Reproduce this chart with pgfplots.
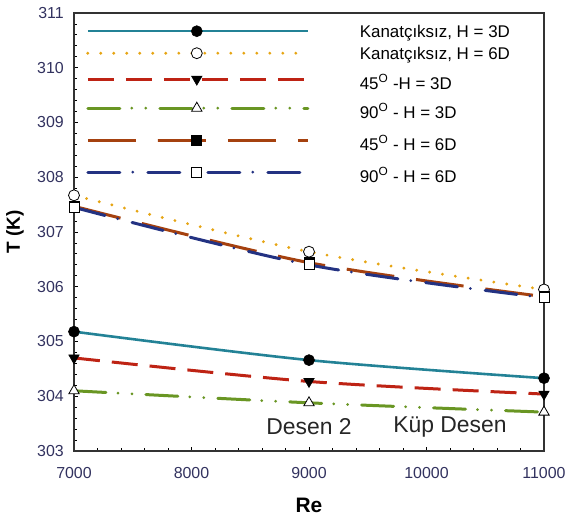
\documentclass[border=0pt]{standalone}
\usepackage{pgfplots}
\pgfplotsset{compat=1.18}
\usepackage{fontspec}
\setmainfont{Liberation Sans}
\definecolor{cteal}{RGB}{35,130,150}
\definecolor{corange}{RGB}{230,165,20}
\definecolor{cred}{RGB}{190,35,20}
\definecolor{cgreen}{RGB}{105,150,35}
\definecolor{cbrown}{RGB}{165,65,15}
\definecolor{cnavy}{RGB}{35,50,130}
\definecolor{ctick}{RGB}{50,50,95}
\begin{document}
\begin{tikzpicture}
\path[use as bounding box] (-74bp,-70bp) rectangle (496bp,451bp);
\begin{axis}[
  scale only axis, width=470bp, height=438bp,
  at={(0,0)}, anchor=south west,
  xmin=7000, xmax=11000, ymin=303, ymax=311,
  xtick={7000,8000,9000,10000,11000}, ytick={303,304,...,311},
  scaled x ticks=false, scaled y ticks=false,
  minor x tick num=4, minor y tick num=4,
  tick align=inside, xtick pos=left, ytick pos=left,
  major tick length=4bp, minor tick length=3bp,
  tick style={black, line width=0.8bp},
  axis line style={line width=1.1bp, black!80},
  /pgf/number format/assume math mode=true,
  /pgf/number format/set thousands separator={},
  ticklabel style={font=\fontsize{16}{18}\selectfont, text=ctick, inner sep=0pt},
  xticklabel style={anchor=center, yshift=-22bp},
  yticklabel style={anchor=east, xshift=-10bp},
  xlabel={Re}, ylabel={T (K)},
  xlabel style={font=\bfseries\fontsize{21}{24}\selectfont, at={(axis description cs:0.5,-0.1233)}, anchor=center},
  ylabel style={font=\bfseries\fontsize{19}{22}\selectfont, at={(axis description cs:-0.1255,0.5)}, anchor=center},
  legend image code/.code={
    \draw[mark repeat=2, mark phase=2, #1] plot coordinates {(0bp,0bp) (109bp,0bp) (220bp,0bp)};
    \path[draw=none, fill=none] (0bp,0bp) -- (272bp,0bp);
  },
  legend style={at={(axis description cs:0,1)}, anchor=north west, xshift=12bp, yshift=-7bp,
    draw=none, fill=none, inner sep=0pt, row sep=0pt,
    font=\fontsize{17}{20}\selectfont,
    nodes={inner sep=0pt}},
  legend cell align=left,
]
\addplot[cteal, line width=2.6bp, smooth, mark=*, mark size=5.5bp,
  mark options={solid, fill=black, draw=black, line width=0.6bp}]
  coordinates {(7000,305.18) (9000,304.66) (11000,304.33)};
\addlegendentry[text height=17bp, text depth=5bp]{Kanatçıksız, H = 3D}
\addplot[corange, line width=3.2bp, line cap=round, dash pattern=on 0bp off 13bp, smooth, mark=*, mark size=5.5bp,
  mark options={solid, fill=white, draw=black, line width=0.8bp}]
  coordinates {(7000,307.67) (9000,306.64) (11000,305.95)};
\addlegendentry[text height=17bp, text depth=5bp]{Kanatçıksız, H = 6D}
\addplot[cred, line width=3bp, dash pattern=on 26bp off 12bp, smooth, mark=triangle*, mark size=6bp,
  mark options={solid, rotate=180, fill=black, draw=black, line width=0.6bp}]
  coordinates {(7000,304.70) (9000,304.27) (11000,304.04)};
\addlegendentry[text height=25bp, text depth=5bp]{45\textsuperscript{O} -H = 3D}
\addplot[cgreen, line width=3bp, line cap=round, dash pattern=on 32bp off 12bp on 0bp off 14bp on 0bp off 14bp, smooth, mark=triangle*, mark size=6bp,
  mark options={solid, fill=white, draw=black, line width=0.8bp}]
  coordinates {(7000,304.10) (9000,303.88) (11000,303.71)};
\addlegendentry[text height=24bp, text depth=4bp]{90\textsuperscript{O} - H = 3D}
\addplot[cbrown, line width=3bp, dash pattern=on 48bp off 22bp, smooth, mark=square*, mark size=5bp,
  mark options={solid, fill=black, draw=black, line width=0.6bp}]
  coordinates {(7000,307.47) (9000,306.44) (11000,305.82)};
\addlegendentry[text height=28bp, text depth=8bp]{45\textsuperscript{O} - H = 6D}
\addplot[cnavy, line width=3bp, line cap=round, dash pattern=on 32bp off 13bp on 0bp off 15bp, smooth, mark=square*, mark size=5bp,
  mark options={solid, fill=white, draw=black, line width=0.8bp}]
  coordinates {(7000,307.45) (9000,306.40) (11000,305.80)};
\addlegendentry[text height=24bp, text depth=4bp]{90\textsuperscript{O} - H = 6D}
\node[font=\fontsize{23}{26}\selectfont, text=black!85] at (axis cs:9000,303.44) {Desen 2};
\node[font=\fontsize{23}{26}\selectfont, text=black!85] at (axis cs:10200,303.44) {Küp Desen};
\end{axis}
\end{tikzpicture}
\end{document}
